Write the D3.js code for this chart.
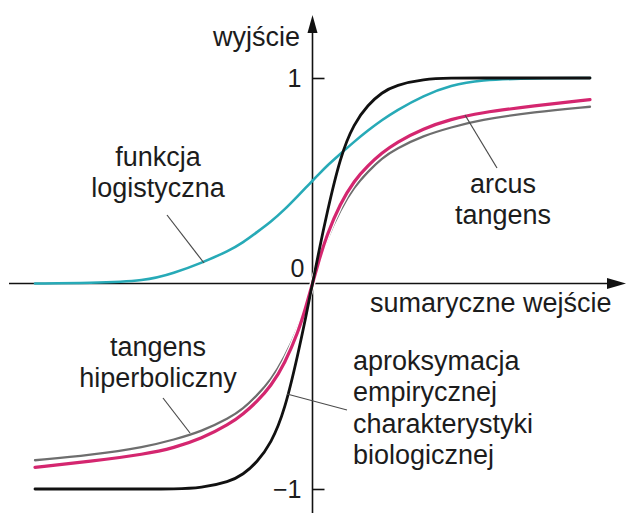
<!DOCTYPE html>
<html>
<head>
<meta charset="utf-8">
<script src="https://cdn.jsdelivr.net/npm/d3@7"></script>
<style>
  html, body { margin: 0; padding: 0; background: #fff; }
  svg { display: block; }
  text { font-family: "Liberation Sans", Arial, Helvetica, sans-serif; fill: #1c1c1c; }
</style>
</head>
<body>
<svg id="chart" width="627" height="513"></svg>
<script>
// summed input (arbitrary units) at which every curve is sampled
const inputs = [-10, -8, -6, -5, -4, -3, -2.5, -2, -1.5, -1, -0.5, -0.25, 0,
                0.25, 0.5, 1, 1.5, 2, 2.5, 3, 4, 5, 6, 8, 10];

// approximation of the empirical biological characteristic
const biological = [-1, -1, -1, -1, -0.995, -0.965, -0.93, -0.87, -0.78, -0.62, -0.33, -0.17, 0,
                    0.17, 0.33, 0.62, 0.78, 0.87, 0.93, 0.965, 0.995, 1, 1, 1, 1];
// logistic function
const logistic = [0, 0.002, 0.012, 0.05, 0.10, 0.16, 0.20, 0.25, 0.30, 0.36, 0.43, 0.465, 0.5,
                  0.535, 0.57, 0.63, 0.69, 0.745, 0.795, 0.84, 0.915, 0.965, 0.99, 1, 1];
// hyperbolic tangent (magenta)
const hyperbolic = [-0.895, -0.865, -0.83, -0.80, -0.755, -0.685, -0.635, -0.575, -0.50, -0.39, -0.23, -0.12, 0,
                    0.12, 0.23, 0.39, 0.50, 0.575, 0.635, 0.685, 0.755, 0.80, 0.83, 0.865, 0.895];
// arc tangent (grey)
const arctangent = [-0.86, -0.835, -0.795, -0.76, -0.72, -0.655, -0.61, -0.545, -0.47, -0.36, -0.21, -0.11, 0,
                    0.11, 0.21, 0.36, 0.47, 0.545, 0.61, 0.655, 0.72, 0.76, 0.795, 0.835, 0.86];

const yTicks = [-1, 1];
const xTitle = "sumaryczne wejście";
const yTitle = "wyjście";

const svg = d3.select("#chart");

const x = d3.scaleLinear().domain([-10, 10]).range([35, 590]);
const y = d3.scaleLinear().domain([-1, 1]).range([489, 78]);

// ---- axes with arrow heads ----
const axisColor = "#111";
const gAxes = svg.append("g");

// horizontal axis
gAxes.append("line")
  .attr("x1", 9).attr("x2", 610)
  .attr("y1", y(0)).attr("y2", y(0))
  .attr("stroke", axisColor).attr("stroke-width", 1.6);
gAxes.append("path")
  .attr("d", `M626,${y(0)} L607,${y(0) - 5.5} L607,${y(0) + 5.5} Z`)
  .attr("fill", axisColor);

// vertical axis
gAxes.append("line")
  .attr("x1", x(0)).attr("x2", x(0))
  .attr("y1", 513).attr("y2", 30)
  .attr("stroke", axisColor).attr("stroke-width", 1.6);
gAxes.append("path")
  .attr("d", `M${x(0)},15 L${x(0) - 5},33 L${x(0) + 5},33 Z`)
  .attr("fill", axisColor);

// ticks at ±1, labels to the left of the axis
const yAxis = d3.axisLeft(y).tickValues(yTicks).tickFormat(d3.format("d"))
  .tickSize(-12).tickPadding(11);
const gY = svg.append("g").attr("transform", `translate(${x(0)},0)`).call(yAxis);
gY.select(".domain").remove();
gY.selectAll(".tick line").attr("stroke", axisColor).attr("stroke-width", 1.6);
gY.selectAll(".tick text")
  .style("font-family", '"Liberation Sans", Arial, sans-serif')
  .style("font-size", "25px").attr("fill", "#1c1c1c");

svg.append("text")
  .attr("x", x(0) - 8).attr("y", 277)
  .attr("text-anchor", "end").attr("font-size", 25).text("0");

// axis titles
svg.append("text")
  .attr("x", 300).attr("y", 46)
  .attr("text-anchor", "end").attr("font-size", 27).text(yTitle);
svg.append("text")
  .attr("x", 370).attr("y", 312)
  .attr("font-size", 27).text(xTitle);

// ---- curves ----
const line = d3.line()
  .x(d => x(d[0]))
  .y(d => y(d[1]))
  .curve(d3.curveBasis);

const zipped = vals => inputs.map((v, i) => [v, vals[i]]);
const gCurves = svg.append("g").attr("fill", "none").attr("stroke-linecap", "round");

gCurves.append("path").attr("d", line(zipped(arctangent)))
  .attr("stroke", "#6e6e6e").attr("stroke-width", 2.3);
gCurves.append("path").attr("d", line(zipped(hyperbolic)))
  .attr("stroke", "#ffffff").attr("stroke-width", 5.6);
gCurves.append("path").attr("d", line(zipped(hyperbolic)))
  .attr("stroke", "#d4266f").attr("stroke-width", 3.2);
gCurves.append("path").attr("d", line(zipped(logistic)))
  .attr("stroke", "#27aab7").attr("stroke-width", 2.6);
gCurves.append("path").attr("d", line(zipped(biological)))
  .attr("stroke", "#111111").attr("stroke-width", 2.8);

// ---- annotations: leader lines and labels ----
const leaders = [
  [[167, 215], [204, 263]],
  [[497, 168], [465, 115]],
  [[163, 398], [190, 433]],
  [[287, 394], [347, 410]]
];
svg.append("g").selectAll("line").data(leaders).join("line")
  .attr("x1", d => d[0][0]).attr("y1", d => d[0][1])
  .attr("x2", d => d[1][0]).attr("y2", d => d[1][1])
  .attr("stroke", "#4a4a4a").attr("stroke-width", 1.2);

const labels = [
  { lines: ["funkcja", "logistyczna"], x: 158, y: 166, anchor: "middle" },
  { lines: ["arcus", "tangens"], x: 503, y: 193, anchor: "middle" },
  { lines: ["tangens", "hiperboliczny"], x: 158, y: 356, anchor: "middle" },
  { lines: ["aproksymacja", "empirycznej", "charakterystyki", "biologicznej"], x: 353, y: 370, anchor: "start" }
];
const gLabels = svg.append("g");
labels.forEach(lb => {
  const t = gLabels.append("text")
    .attr("x", lb.x).attr("y", lb.y)
    .attr("text-anchor", lb.anchor).attr("font-size", 27);
  lb.lines.forEach((s, i) => {
    t.append("tspan").attr("x", lb.x).attr("dy", i === 0 ? 0 : 31.3).text(s);
  });
});
</script>
</body>
</html>
